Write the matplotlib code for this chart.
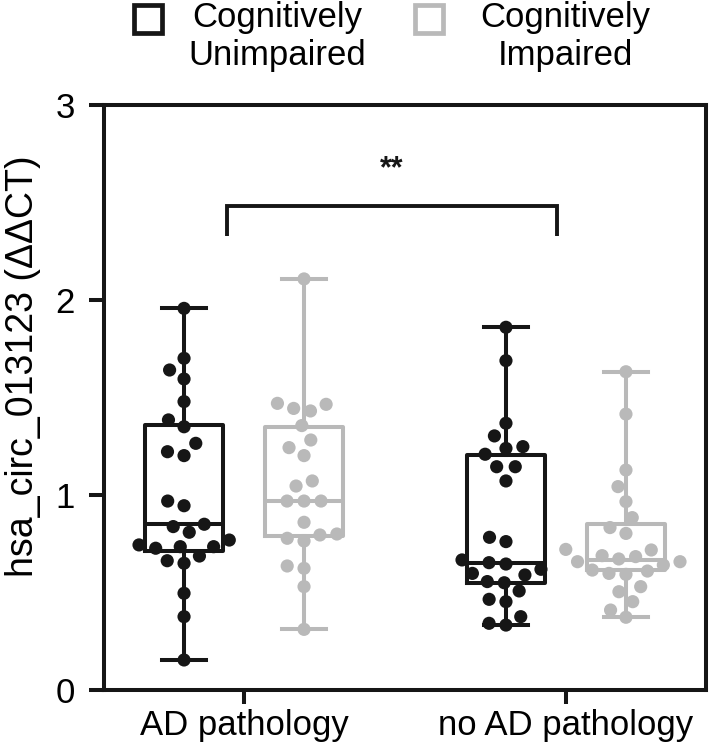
import numpy as np
import matplotlib
matplotlib.use("Agg")
import matplotlib.pyplot as plt
from matplotlib.patches import Rectangle

plt.rcParams['font.family'] = ['Liberation Sans', 'DejaVu Sans']

categories = ["AD pathology", "no AD pathology"]
series_names = ["Cognitively\nUnimpaired", "Cognitively\nImpaired"]
colors = ["#161616", "#b9b9b9"]

ad_cu = [1.957, 1.701, 1.641, 1.595, 1.479, 1.385, 1.350, 1.265, 1.222, 1.202, 0.969, 0.945, 0.850,
         0.838, 0.809, 0.769, 0.744, 0.735, 0.727, 0.735, 0.687, 0.650, 0.663, 0.496, 0.376, 0.154]
ad_ci = [2.108, 1.470, 1.465, 1.444, 1.431, 1.356, 1.282, 1.243, 1.202, 1.072, 1.046, 0.969, 0.969,
         0.969, 0.860, 0.795, 0.764, 0.778, 0.800, 0.624, 0.636, 0.530, 0.311]
noad_cu = [1.860, 1.689, 1.368, 1.303, 1.248, 1.239, 1.209, 1.145, 1.145, 1.072, 0.761, 0.783, 0.667,
           0.646, 0.653, 0.619, 0.598, 0.590, 0.556, 0.550, 0.508, 0.465, 0.453, 0.376, 0.333, 0.342]
noad_ci = [1.632, 1.415, 1.128, 1.043, 0.966, 0.884, 0.833, 0.803, 0.718, 0.721, 0.684, 0.672, 0.689,
           0.658, 0.658, 0.641, 0.610, 0.615, 0.598, 0.593, 0.530, 0.504, 0.453, 0.410, 0.373]

# quartiles (q1, median, q3) per group as drawn in the reference
ad_cu_box = [0.714, 0.850, 1.359]
ad_ci_box = [0.790, 0.969, 1.347]
noad_cu_box = [0.550, 0.650, 1.207]
noad_ci_box = [0.615, 0.667, 0.850]

significance = "**"
bracket_y = 2.48
ylabel = "hsa_circ_013123 (ΔΔCT)"
yticks = [0, 1, 2, 3]

groups = [
    (0, 0, ad_cu, ad_cu_box),
    (0, 1, ad_ci, ad_ci_box),
    (1, 0, noad_cu, noad_cu_box),
    (1, 1, noad_ci, noad_ci_box),
]

W, H, DPI = 7.09, 7.49, 100
fig = plt.figure(figsize=(W, H), dpi=DPI)
ax = fig.add_axes([104 / 709, 1 - 690 / 749, (706 - 104) / 709, (690 - 105) / 749])

xlim = (0.565, 2.435)
ylim = (0, 3)
ax.set_xlim(*xlim)
ax.set_ylim(*ylim)

px_x = ax.bbox.width / (xlim[1] - xlim[0])
px_y = ax.bbox.height / (ylim[1] - ylim[0])

dodge = 60 / px_x
box_w = 78 / px_x
cap_w = 44 / px_x
lw = 2.9


def swarm(values, diam_px):
    vals = np.asarray(values, float)
    order = np.argsort(vals)
    ys = vals * px_y
    placed = []
    offs = np.zeros(len(vals))
    for i in order:
        y = ys[i]
        cands = [0.0]
        for (px, py) in placed:
            dy = abs(py - y)
            if dy < diam_px:
                dx = np.sqrt(diam_px ** 2 - dy ** 2)
                cands += [px + dx, px - dx]
        cands = sorted(cands, key=lambda c: (abs(c), c))
        for c in cands:
            ok = True
            for (px, py) in placed:
                if (px - c) ** 2 + (py - y) ** 2 < diam_px ** 2 - 1e-6:
                    ok = False
                    break
            if ok:
                offs[i] = c
                placed.append((c, y))
                break
    return offs / px_x


for cat_i, ser_i, vals, box in groups:
    pos = cat_i + 1 + (-dodge if ser_i == 0 else dodge)
    col = colors[ser_i]
    stats = [dict(q1=box[0], med=box[1], q3=box[2], whislo=min(vals), whishi=max(vals), fliers=[])]
    ax.bxp(stats, positions=[pos], widths=box_w, capwidths=cap_w, showfliers=False,
           boxprops=dict(color=col, lw=lw), medianprops=dict(color=col, lw=lw),
           whiskerprops=dict(color=col, lw=lw), capprops=dict(color=col, lw=lw),
           manage_ticks=False, zorder=2)
    offs = swarm(vals, 17)
    ax.scatter(pos + offs, vals, s=90, color=col, edgecolors='none', zorder=3)

# significance bracket between the two pathology categories
x1 = 1 - 17 / px_x
x2 = 2 - 9 / px_x
leg = 30 / px_y
ax.plot([x1, x1, x2, x2], [bracket_y - leg, bracket_y, bracket_y, bracket_y - leg],
        color="#161616", lw=2.8, solid_capstyle='butt', solid_joinstyle='miter', clip_on=False)
ax.text((x1 + x2) / 2, bracket_y + 37 / px_y, significance, ha='center', va='center',
        fontsize=22, fontweight='bold', color="#161616")

for sp in ax.spines.values():
    sp.set_linewidth(lw)
    sp.set_color("#161616")

ax.set_yticks(yticks)
ax.set_yticklabels([str(t) for t in yticks])
ax.set_xticks([1, 2])
ax.set_xticklabels(categories)
ax.tick_params(axis='y', length=11, width=lw, labelsize=25, pad=10, color="#161616")
ax.tick_params(axis='x', length=10, width=lw, labelsize=25, pad=4, color="#161616")

fig.text(23 / 709, 1 - 366 / 749, ylabel, rotation=90, ha='center', va='center', fontsize=27)

# legend (manual)
leg_centers = [277, 565]
sq_left = [134, 415]
for i in range(2):
    fig.add_artist(Rectangle((sq_left[i] / 709, 1 - 33 / 749), 28 / 709, 28 / 749,
                             transform=fig.transFigure, fill=False, edgecolor=colors[i],
                             lw=3.4))
    fig.text(leg_centers[i] / 709, 1 - 1 / 749, series_names[i], ha='center', va='top',
             fontsize=25, multialignment='center', linespacing=1.2)

fig.savefig("out.png", dpi=DPI)
